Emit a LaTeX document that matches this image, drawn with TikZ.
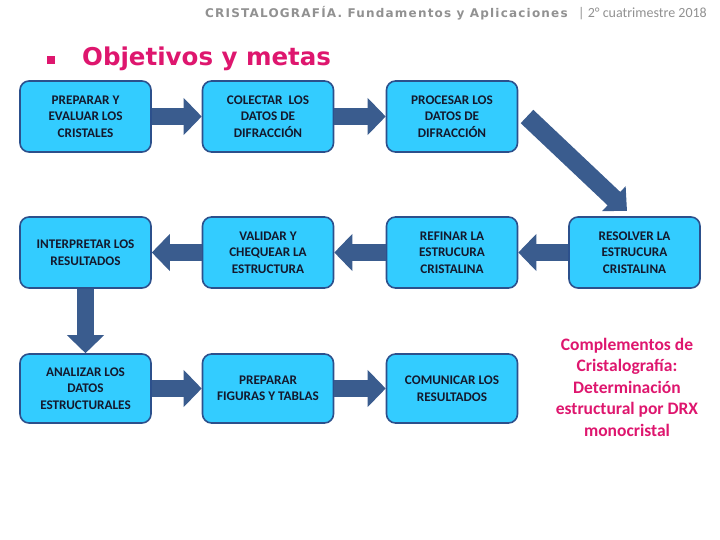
\documentclass[tikz,border=0pt]{standalone}
\usepackage{fontspec}
\setmainfont{Carlito}
\newfontfamily\djb{DejaVu Sans}[LetterSpace=10]
\newfontfamily\djt{DejaVu Sans}
\usetikzlibrary{arrows.meta}
\definecolor{boxfill}{RGB}{51,204,255}
\definecolor{boxline}{RGB}{44,80,140}
\definecolor{arrowcol}{RGB}{58,92,142}
\definecolor{txtcol}{RGB}{20,25,45}
\definecolor{pinkcol}{RGB}{222,22,110}
\definecolor{graycol}{RGB}{145,145,145}
\begin{document}
\begin{tikzpicture}[x=1pt,y=-1pt,
  stepbox/.style={draw=boxline, fill=boxfill, line width=1.6pt, rounded corners=9pt,
    minimum width=131pt, minimum height=71pt, inner sep=0pt, align=center, text=txtcol,
    font=\fontsize{13.2}{16.5}\selectfont\bfseries},
  blockarrow/.style={draw=arrowcol, line width=17pt,
    -{Triangle[length=18pt,width=36pt]}}]
\useasboundingbox (0,0) rectangle (720,540);
% header
\node[anchor=base west, inner sep=0pt, text=graycol, font=\djb\bfseries\fontsize{12}{13}\selectfont] (hdr) at (205,18) {CRISTALOGRAFÍA. Fundamentos y Aplicaciones};
\node[anchor=base west, inner sep=0pt, text=graycol, font=\fontsize{14}{15}\selectfont] (hdr2) at (578,18) {| 2° cuatrimestre 2018};
% title
\fill[pinkcol] (47,56) rectangle (55,64);
\node[anchor=base west, inner sep=0pt, text=pinkcol, font=\djt\bfseries\fontsize{24.5}{26}\selectfont] (title) at (82,66) {Objetivos y metas};
% boxes
\node[stepbox] (a1) at (85.5,116.5) {PREPARAR Y\\EVALUAR LOS\\CRISTALES};
\node[stepbox] (a2) at (268,116.5) {COLECTAR\ \ LOS\\DATOS DE\\DIFRACCIÓN};
\node[stepbox] (a3) at (452,116.5) {PROCESAR LOS\\DATOS DE\\DIFRACCIÓN};
\node[stepbox] (b1) at (85.5,252.5) {INTERPRETAR LOS\\RESULTADOS};
\node[stepbox] (b2) at (268,252.5) {VALIDAR Y\\CHEQUEAR LA\\ESTRUCTURA};
\node[stepbox] (b3) at (452,252.5) {REFINAR LA\\ESTRUCURA\\CRISTALINA};
\node[stepbox] (b4) at (634.5,252.5) {RESOLVER LA\\ESTRUCURA\\CRISTALINA};
\node[stepbox, minimum height=69pt] (c1) at (85.5,388.5) {ANALIZAR LOS\\DATOS\\ESTRUCTURALES};
\node[stepbox, minimum height=69pt] (c2) at (268,388.5) {PREPARAR\\FIGURAS Y TABLAS};
\node[stepbox, minimum height=69pt] (c3) at (452,388.5) {COMUNICAR LOS\\RESULTADOS};
% arrows
\draw[blockarrow] (a1.east) -- (a2.west);
\draw[blockarrow] (a2.east) -- (a3.west);
\coordinate (d1) at (527,116.5);
\coordinate (d2) at (627,211);
\draw[draw=arrowcol, line width=18.4pt, -{Triangle[length=18pt,width=33pt]}] (d1) -- (d2);
\draw[blockarrow] (b4.west) -- (b3.east);
\draw[blockarrow] (b3.west) -- (b2.east);
\draw[blockarrow] (b2.west) -- (b1.east);
\draw[blockarrow] (b1.south) -- (c1.north);
\draw[blockarrow] (c1.east) -- (c2.west);
\draw[blockarrow] (c2.east) -- (c3.west);
% side text
\node[align=center, text=pinkcol, inner sep=0pt, font=\fontsize{17.5}{21.5}\selectfont\bfseries] (comp) at (627,387) {Complementos de\\Cristalografía:\\Determinación\\estructural por DRX\\monocristal};
\end{tikzpicture}
\end{document}
